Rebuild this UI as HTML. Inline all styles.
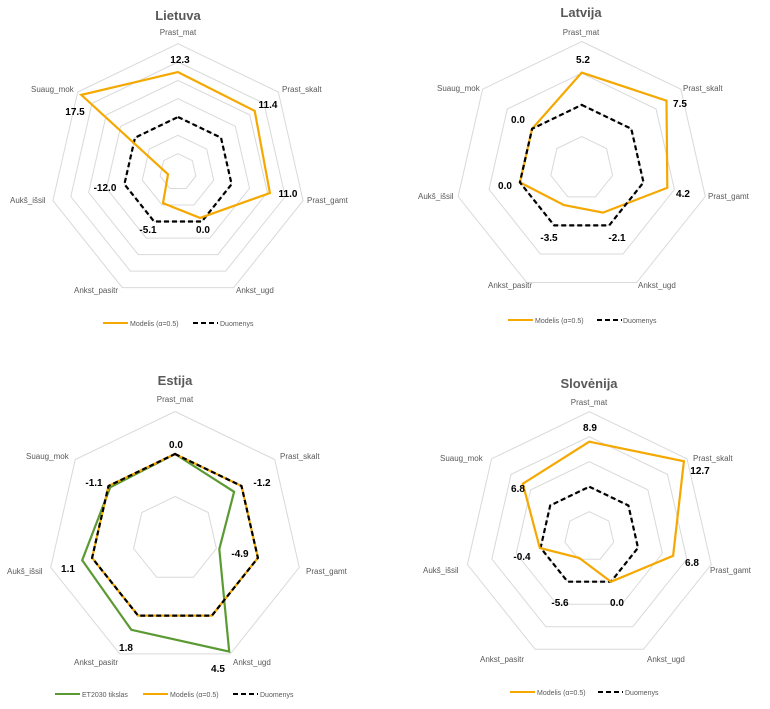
<!DOCTYPE html>
<html><head><meta charset="utf-8"><style>
html,body{margin:0;padding:0;background:#fff;}
svg{display:block;}
.ax{font:8px "Liberation Sans",sans-serif;fill:#595959;}
.v{font:bold 10px "Liberation Sans",sans-serif;fill:#000;}
.t{font:bold 13px "Liberation Sans",sans-serif;fill:#595959;}
.lg{font:7px "Liberation Sans",sans-serif;fill:#595959;}
</style></head><body>
<svg id="s" width="770" height="709" viewBox="0 0 770 709" xmlns="http://www.w3.org/2000/svg">
<g id="shapes"></g>
<!-- Lietuva -->
<text class="t" x="178" y="20" text-anchor="middle">Lietuva</text>
<text class="ax" x="178" y="35" text-anchor="middle">Prast_mat</text>
<text class="ax" x="282" y="92">Prast_skalt</text>
<text class="ax" x="307" y="203">Prast_gamt</text>
<text class="ax" x="236" y="293">Ankst_ugd</text>
<text class="ax" x="96" y="293" text-anchor="middle">Ankst_pasitr</text>
<text class="ax" x="10" y="203">Aukš_išsil</text>
<text class="ax" x="31" y="92">Suaug_mok</text>
<text class="v" x="180" y="63" text-anchor="middle">12.3</text>
<text class="v" x="268" y="108" text-anchor="middle">11.4</text>
<text class="v" x="288" y="197" text-anchor="middle">11.0</text>
<text class="v" x="203" y="233" text-anchor="middle">0.0</text>
<text class="v" x="148" y="233" text-anchor="middle">-5.1</text>
<text class="v" x="105" y="191" text-anchor="middle">-12.0</text>
<text class="v" x="75" y="115" text-anchor="middle">17.5</text>
<text class="lg" x="130" y="326">Modelis (α=0.5)</text>
<text class="lg" x="220" y="326">Duomenys</text>
<!-- Latvija -->
<text class="t" x="581" y="17" text-anchor="middle">Latvija</text>
<text class="ax" x="581" y="35" text-anchor="middle">Prast_mat</text>
<text class="ax" x="683" y="91">Prast_skalt</text>
<text class="ax" x="708" y="199">Prast_gamt</text>
<text class="ax" x="638" y="288">Ankst_ugd</text>
<text class="ax" x="510" y="288" text-anchor="middle">Ankst_pasitr</text>
<text class="ax" x="418" y="199">Aukš_išsil</text>
<text class="ax" x="437" y="91">Suaug_mok</text>
<text class="v" x="583" y="63" text-anchor="middle">5.2</text>
<text class="v" x="680" y="107" text-anchor="middle">7.5</text>
<text class="v" x="683" y="197" text-anchor="middle">4.2</text>
<text class="v" x="617" y="241" text-anchor="middle">-2.1</text>
<text class="v" x="549" y="241" text-anchor="middle">-3.5</text>
<text class="v" x="505" y="189" text-anchor="middle">0.0</text>
<text class="v" x="518" y="123" text-anchor="middle">0.0</text>
<text class="lg" x="535" y="323">Modelis (α=0.5)</text>
<text class="lg" x="623" y="323">Duomenys</text>
<!-- Estija -->
<text class="t" x="175" y="385" text-anchor="middle">Estija</text>
<text class="ax" x="175" y="402" text-anchor="middle">Prast_mat</text>
<text class="ax" x="280" y="459">Prast_skalt</text>
<text class="ax" x="306" y="574">Prast_gamt</text>
<text class="ax" x="233" y="665">Ankst_ugd</text>
<text class="ax" x="96" y="665" text-anchor="middle">Ankst_pasitr</text>
<text class="ax" x="7" y="574">Aukš_išsil</text>
<text class="ax" x="26" y="459">Suaug_mok</text>
<text class="v" x="176" y="448" text-anchor="middle">0.0</text>
<text class="v" x="262" y="486" text-anchor="middle">-1.2</text>
<text class="v" x="240" y="557" text-anchor="middle">-4.9</text>
<text class="v" x="218" y="672" text-anchor="middle">4.5</text>
<text class="v" x="126" y="651" text-anchor="middle">1.8</text>
<text class="v" x="68" y="572" text-anchor="middle">1.1</text>
<text class="v" x="94" y="486" text-anchor="middle">-1.1</text>
<text class="lg" x="82" y="697">ET2030 tikslas</text>
<text class="lg" x="170" y="697">Modelis (α=0.5)</text>
<text class="lg" x="260" y="697">Duomenys</text>
<!-- Slovenija -->
<text class="t" x="589" y="388" text-anchor="middle">Slovėnija</text>
<text class="ax" x="589" y="405" text-anchor="middle">Prast_mat</text>
<text class="ax" x="693" y="461">Prast_skalt</text>
<text class="ax" x="710" y="573">Prast_gamt</text>
<text class="ax" x="647" y="662">Ankst_ugd</text>
<text class="ax" x="502" y="662" text-anchor="middle">Ankst_pasitr</text>
<text class="ax" x="423" y="573">Aukš_išsil</text>
<text class="ax" x="440" y="461">Suaug_mok</text>
<text class="v" x="590" y="431" text-anchor="middle">8.9</text>
<text class="v" x="700" y="474" text-anchor="middle">12.7</text>
<text class="v" x="692" y="566" text-anchor="middle">6.8</text>
<text class="v" x="617" y="606" text-anchor="middle">0.0</text>
<text class="v" x="560" y="606" text-anchor="middle">-5.6</text>
<text class="v" x="522" y="560" text-anchor="middle">-0.4</text>
<text class="v" x="518" y="492" text-anchor="middle">6.8</text>
<text class="lg" x="537" y="695">Modelis (α=0.5)</text>
<text class="lg" x="625" y="695">Duomenys</text>
</svg>
<script>
var g=document.getElementById('shapes'),NS='http://www.w3.org/2000/svg';
function el(t,a){var e=document.createElementNS(NS,t);for(var k in a)e.setAttribute(k,a[k]);g.appendChild(e);return e;}
function pts(cx,cy,u,r){var p=[];for(var i=0;i<7;i++){var a=(-90+i*360/7)*Math.PI/180;p.push((cx+Math.cos(a)*u*r[i]).toFixed(1)+','+(cy+Math.sin(a)*u*r[i]).toFixed(1));}return p.join(' ');}
function chart(cx,cy,u,n,series){
 for(var k=1;k<=n;k++)el('polygon',{points:pts(cx,cy,u,[k,k,k,k,k,k,k]),fill:'none',stroke:'#d9d9d9','stroke-width':1});
 series.forEach(function(s){
  if(s.t=='o')el('polygon',{points:pts(cx,cy,u,s.r),fill:'none',stroke:'#f5a800','stroke-width':2.2,'stroke-linejoin':'miter'});
  if(s.t=='g')el('polygon',{points:pts(cx,cy,u,s.r),fill:'none',stroke:'#5b9a32','stroke-width':2.2});
  if(s.t=='d')el('polygon',{points:pts(cx,cy,u,s.r),fill:'none',stroke:'#000','stroke-width':2.2,'stroke-dasharray':'5,3'});
 });
}
function leg(x,y,t){
 if(t=='o')el('line',{x1:x,y1:y,x2:x+25,y2:y,stroke:'#f5a800','stroke-width':2});
 if(t=='g')el('line',{x1:x,y1:y,x2:x+25,y2:y,stroke:'#5b9a32','stroke-width':2});
 if(t=='d')el('line',{x1:x,y1:y,x2:x+25,y2:y,stroke:'#000','stroke-width':2,'stroke-dasharray':'5,3'});
}
var D3=[3,3,3,3,3,3,3],D2=[2,2,2,2,2,2,2];
chart(178,172,18.33,7,[{t:'d',r:D3},{t:'o',r:[5.45,5.35,5.14,2.78,1.89,0.56,6.75]}]);
chart(581.7,168.3,31.7,4,[{t:'o',r:[3.02,3.42,2.77,1.55,1.29,2,2]},{t:'d',r:D2}]);
chart(175,539,42.5,3,[{t:'g',r:[2,1.78,1.07,2.94,2.37,2.24,1.95]},{t:'o',r:D2},{t:'d',r:D2}]);
chart(589.3,536.7,25,5,[{t:'d',r:D2},{t:'o',r:[3.8,4.84,3.44,2,0.94,2.03,3.4]}]);
leg(103,323,'o');leg(193,323,'d');
leg(508,320,'o');leg(597,320,'d');
leg(55,694,'g');leg(143,694,'o');leg(233,694,'d');
leg(510,692,'o');leg(598,692,'d');
</script>
</body></html>
